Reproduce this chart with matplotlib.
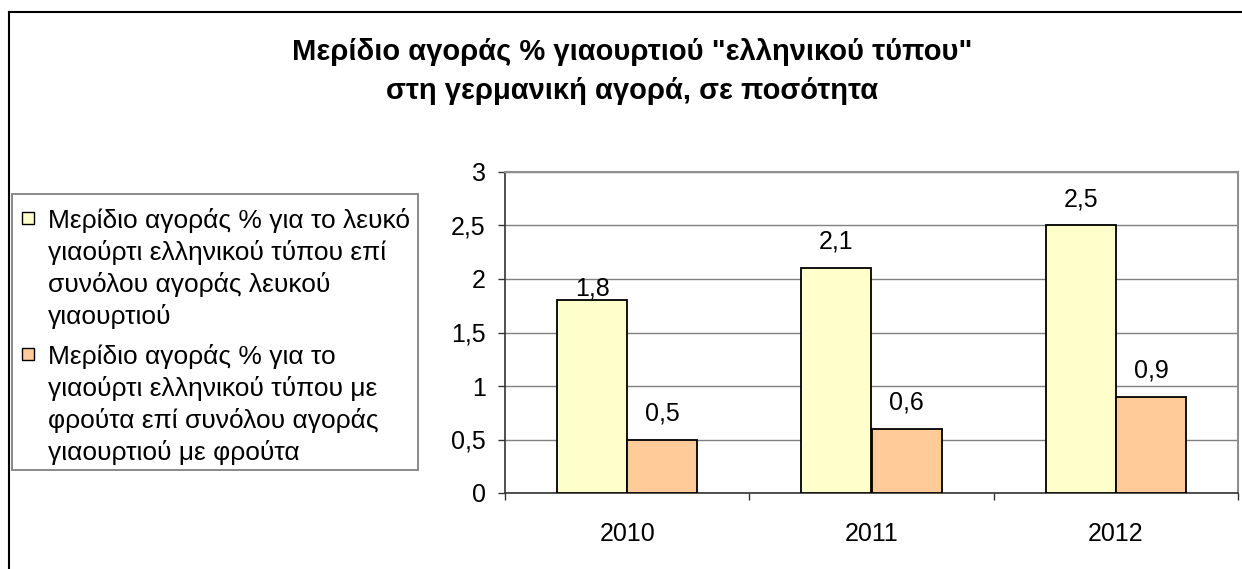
import matplotlib.pyplot as plt
from matplotlib.lines import Line2D
from matplotlib.patches import Rectangle

years = ["2010", "2011", "2012"]
plain_share = [1.8, 2.1, 2.5]
fruit_share = [0.5, 0.6, 0.9]
y_ticks = [0, 0.5, 1, 1.5, 2, 2.5, 3]
series_colors = ["#FFFFCC", "#FFCC99"]
legend_labels = [
    ["Μερίδιο αγοράς % για το λευκό", "γιαούρτι ελληνικού τύπου επί",
     "συνόλου αγοράς λευκού", "γιαουρτιού"],
    ["Μερίδιο αγοράς % για το", "γιαούρτι ελληνικού τύπου με",
     "φρούτα επί συνόλου αγοράς", "γιαουρτιού με φρούτα"],
]
title_lines = ['Μερίδιο αγοράς % γιαουρτιού "ελληνικού τύπου"',
               'στη γερμανική αγορά, σε ποσότητα']

plt.rcParams['font.family'] = ['Liberation Sans', 'DejaVu Sans']

W, H = 1242, 569
fig = plt.figure(figsize=(W / 100, H / 100), dpi=100)
ax = fig.add_axes([505 / W, 1 - 493 / H, (1238 - 505) / W, (493 - 172) / H])


def px(x, y):
    # pixel position (from top-left) -> figure fraction
    return x / W, 1 - y / H


width = 0.287
x = range(len(years))
bars1 = ax.bar([i - width / 2 for i in x], plain_share, width, color=series_colors[0],
               edgecolor="black", linewidth=1.3, zorder=3)
bars2 = ax.bar([i + width / 2 for i in x], fruit_share, width, color=series_colors[1],
               edgecolor="black", linewidth=1.3, zorder=3)


def fmt(v):
    return f"{v:.1f}".replace(".", ",")


for bars, vals in ((bars1, plain_share), (bars2, fruit_share)):
    for b, v in zip(bars, vals):
        off = 3.5 if v == 1.8 else 14
        ax.annotate(fmt(v), (b.get_x() + b.get_width() / 2, v), xytext=(0, off),
                    textcoords="offset points", ha="center", va="baseline", fontsize=18)

ax.set_xlim(-0.5, 2.5)
ax.set_ylim(0, 3)
ax.set_yticks(y_ticks)
ax.set_yticklabels([fmt(t) if t % 1 else str(int(t)) for t in y_ticks], fontsize=18)
ax.set_xticks(list(x))
ax.set_xticklabels(years, fontsize=18)
ax.set_xticks([-0.5, 0.5, 1.5, 2.5], minor=True)
ax.tick_params(axis="x", which="major", length=0, pad=21)
ax.tick_params(axis="x", which="minor", length=5, width=1, color="#333333")
ax.tick_params(axis="y", length=5, width=1, color="#333333", pad=9)
ax.grid(axis="y", color="#808080", linewidth=1, zorder=0)
for s in ("top", "right"):
    ax.spines[s].set_color("#909090")
    ax.spines[s].set_linewidth(1.5)
for s in ("left", "bottom"):
    ax.spines[s].set_color("#333333")
    ax.spines[s].set_linewidth(1.2)

# title, two centred bold lines
for line, base in zip(title_lines, (60, 99)):
    fig.text(*px(632, base), line, ha="center", va="baseline", fontsize=21,
             fontweight="bold")

# legend box drawn by hand so the markers sit on the first line of each entry
fig.add_artist(Rectangle(px(12, 470), 406 / W, 276 / H, transform=fig.transFigure,
                         facecolor="white", edgecolor="#808080", linewidth=1.3))
for lines, color, first in zip(legend_labels, series_colors, (228, 364)):
    fig.add_artist(Rectangle(px(22, first - 4), 12 / W, 12 / H,
                             transform=fig.transFigure, facecolor=color,
                             edgecolor="black", linewidth=1))
    for j, line in enumerate(lines):
        fig.text(*px(48, first + 32 * j), line, ha="left", va="baseline", fontsize=19)

# outer chart border (left and top edges visible)
fig.add_artist(Line2D([9 / W, 9 / W], [0, 1 - 12 / H], transform=fig.transFigure,
                      color="black", linewidth=1.5))
fig.add_artist(Line2D([9 / W, 1], [1 - 12 / H, 1 - 12 / H], transform=fig.transFigure,
                      color="black", linewidth=1.5))

fig.savefig("out.png", dpi=100)
